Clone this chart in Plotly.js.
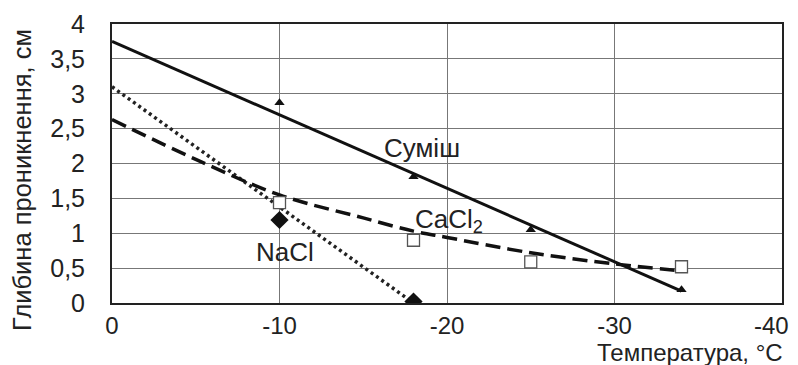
<!DOCTYPE html>
<html>
<head>
<meta charset="utf-8">
<script src="https://cdn.plot.ly/plotly-3.0.1.min.js"></script>
<style>html,body{margin:0;padding:0;background:#fff;}#chart{width:798px;height:365px;}</style>
</head>
<body>
<div id="chart"></div>
<script>
// Measured points
var mixX = [-10, -18, -25, -34];
var mixY = [2.87, 1.81, 1.05, 0.19];
var naclX = [-10, -18];
var naclY = [1.19, 0.02];
var cacl2X = [-10, -18, -25, -34];
var cacl2Y = [1.44, 0.90, 0.59, 0.52];

// Trend lines
var mixTrendX = [0, -34];
var mixTrendY = [3.75, 0.17];
var naclTrendX = [0, -18];
var naclTrendY = [3.1, 0];
var cacl2TrendX = [0, -5, -10, -15, -18, -20, -25, -30, -34];
var cacl2TrendY = [2.63, 2.06, 1.55, 1.22, 1.03, 0.94, 0.72, 0.56, 0.46];

// Tick labels (the last x label is drawn as an annotation so it fits in the page)
var xTickVals = [0, -10, -20, -30, -40];
var xTickText = ['0', '-10', '-20', '-30', ''];
var xLastTickText = '-40';
var yTickVals = [0, 0.5, 1, 1.5, 2, 2.5, 3, 3.5, 4];
var yTickText = ['0', '0,5', '1', '1,5', '2', '2,5', '3', '3,5', '4'];

var FONT = 'Liberation Sans, Arial, sans-serif';
var TXT = '#222';

var traces = [
  {x: mixTrendX, y: mixTrendY, mode: 'lines', line: {color: '#111', width: 3}, hoverinfo: 'skip'},
  {x: naclTrendX, y: naclTrendY, mode: 'lines', line: {color: '#222', width: 3.5, dash: '3px,3.5px'}, hoverinfo: 'skip'},
  {x: cacl2TrendX, y: cacl2TrendY, mode: 'lines', line: {color: '#111', width: 3.5, dash: '15px,7px', shape: 'spline'}, hoverinfo: 'skip'},
  {x: mixX, y: mixY, mode: 'markers', marker: {symbol: 'triangle-up', size: 9, color: '#111'}},
  {x: naclX, y: naclY, mode: 'markers', marker: {symbol: 'diamond', size: 14, color: '#111'}},
  {x: cacl2X, y: cacl2Y, mode: 'markers', marker: {symbol: 'square', size: 12, color: '#fff', line: {color: '#555', width: 1.3}}}
];

var layout = {
  width: 798, height: 365,
  margin: {l: 112, r: 16, t: 24, b: 62},
  paper_bgcolor: '#fff', plot_bgcolor: '#fff',
  showlegend: false,
  font: {family: FONT, color: TXT, size: 24},
  xaxis: {
    range: [0, -40], autorange: false,
    tickmode: 'array', tickvals: xTickVals, ticktext: xTickText,
    showgrid: true, gridcolor: '#777', gridwidth: 1,
    zeroline: false, showline: true, linecolor: '#222', linewidth: 2, mirror: true,
    ticks: '', ticklabelstandoff: 0,
    tickfont: {family: FONT, size: 24, color: TXT}
  },
  yaxis: {
    range: [0, 4], autorange: false,
    tickmode: 'array', tickvals: yTickVals, ticktext: yTickText,
    showgrid: true, gridcolor: '#777', gridwidth: 1,
    zeroline: false, showline: true, linecolor: '#222', linewidth: 2, mirror: true,
    ticks: '', ticklabelstandoff: 20,
    tickfont: {family: FONT, size: 25, color: TXT}
  },
  annotations: [
    {text: 'Суміш', x: -18.5, y: 2.22, xref: 'x', yref: 'y', showarrow: false, font: {family: FONT, size: 26, color: TXT}},
    {text: 'CaCl<sub>2</sub>', x: -20.1, y: 1.18, xref: 'x', yref: 'y', showarrow: false, font: {family: FONT, size: 26, color: TXT}},
    {text: 'NaCl', x: -10.3, y: 0.73, xref: 'x', yref: 'y', showarrow: false, font: {family: FONT, size: 26, color: TXT}},
    {text: xLastTickText, x: 790, y: 325, xref: 'paper', yref: 'paper', showarrow: false, xanchor: 'right', yanchor: 'middle', borderpad: 0, font: {family: FONT, size: 24, color: TXT}},
    {text: 'Температура, °C', x: 784, y: 352, xref: 'paper', yref: 'paper', showarrow: false, xanchor: 'right', yanchor: 'middle', borderpad: 0, font: {family: FONT, size: 24, color: TXT}},
    {text: 'Глибина проникнення, см', x: 22, y: 180, xref: 'paper', yref: 'paper', showarrow: false, textangle: -90, xanchor: 'center', yanchor: 'middle', font: {family: FONT, size: 25.5, color: TXT}}
  ]
};

// convert pixel positions of page-placed annotations to paper coords
(function(){
  var pw = 798 - 112 - 16, ph = 365 - 24 - 62;
  layout.annotations.forEach(function(a){
    if (a.xref === 'paper') {
      a.x = (a.x - 112) / pw;
      a.y = 1 - (a.y - 24) / ph;
    }
  });
})();

Plotly.newPlot('chart', traces, layout, {staticPlot: true, displayModeBar: false});
</script>
</body>
</html>
